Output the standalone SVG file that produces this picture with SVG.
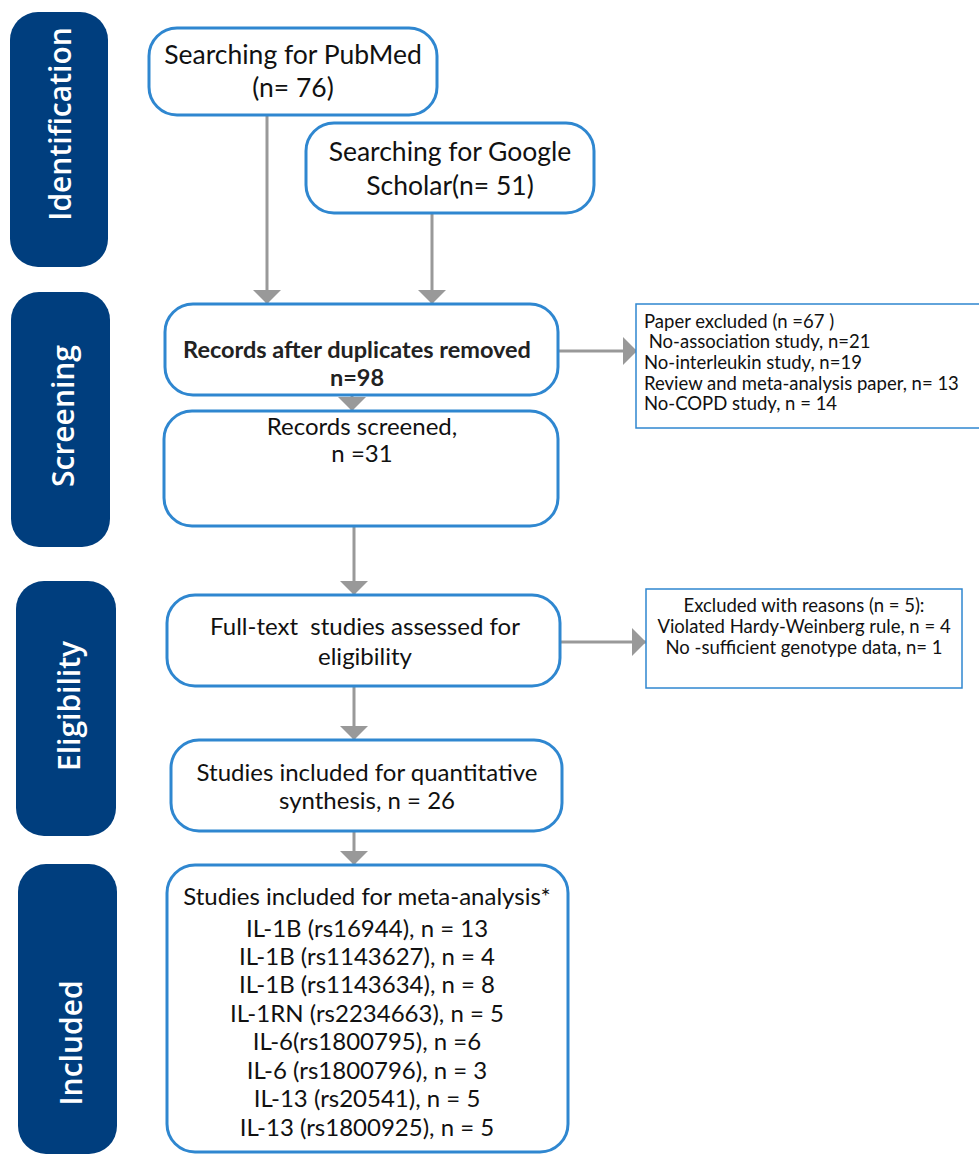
<svg xmlns="http://www.w3.org/2000/svg" width="979" height="1155" viewBox="0 0 979 1155">
<style>
.bar{fill:#003e7e}
.bl{fill:#fff;font-family:"Open Sans","Noto Sans",sans-serif;font-weight:600;font-size:30px;text-anchor:middle;dominant-baseline:central}
.box{fill:#fff;stroke:#2f87d0;stroke-width:3}
.rbox{fill:#fff;stroke:#2f87d0;stroke-width:1.5}
.t{font-family:Lato,"Liberation Sans",sans-serif;font-size:24px;fill:#111;text-anchor:middle}
.tl{font-family:Lato,"Liberation Sans",sans-serif;font-size:26.5px;fill:#111;text-anchor:middle}
.tb{font-family:Lato,"Liberation Sans",sans-serif;font-size:23.5px;fill:#222;text-anchor:middle;font-weight:bold}
.s{font-family:Lato,"Liberation Sans",sans-serif;font-size:18.5px;fill:#111}
.sc{font-family:Lato,"Liberation Sans",sans-serif;font-size:18.5px;fill:#111;text-anchor:middle}
.c{stroke:#999;stroke-width:3;fill:none;marker-end:url(#ah)}
</style>
<defs>
<marker id="ah" markerUnits="userSpaceOnUse" markerWidth="14" markerHeight="28" refX="14" refY="14" orient="auto" viewBox="0 0 14 28">
<path d="M0,0 L14,14 L0,28 z" fill="#999"/>
</marker>
</defs>
<g id="stage-identification"><rect class="bar" x="10" y="12" width="98" height="255" rx="28"/><text class="bl" transform="translate(59,124) rotate(-90)">Identification</text></g>
<g id="stage-screening"><rect class="bar" x="11" y="292" width="99" height="255" rx="28"/><text class="bl" transform="translate(62,416) rotate(-90)">Screening</text></g>
<g id="stage-eligibility"><rect class="bar" x="16" y="581" width="100" height="255" rx="28"/><text class="bl" transform="translate(68,706) rotate(-90)">Eligibility</text></g>
<g id="stage-included"><rect class="bar" x="18" y="864" width="99" height="290" rx="28"/><text class="bl" transform="translate(70,1043) rotate(-90)">Included</text></g>

<g id="connectors">
<line class="c" x1="267" y1="115" x2="267" y2="304"/>
<line class="c" x1="432" y1="213" x2="432" y2="304"/>
<line class="c" x1="352" y1="395" x2="352" y2="411"/>
<line class="c" x1="354" y1="526" x2="354" y2="595"/>
<line class="c" x1="354" y1="686" x2="354" y2="740"/>
<line class="c" x1="354" y1="831" x2="354" y2="865"/>
<line class="c" x1="558" y1="351" x2="637" y2="351"/>
<line class="c" x1="561" y1="642" x2="646" y2="642"/>
</g>

<g id="pubmed"><rect class="box" x="149" y="28" width="288" height="87" rx="28"/>
<text class="tl" x="293" y="64">Searching for PubMed</text><text class="tl" x="293" y="97">(n= 76)</text></g>
<g id="google"><rect class="box" x="306" y="123" width="288" height="90" rx="28"/>
<text class="tl" x="450" y="161">Searching for Google</text><text class="tl" x="450" y="195">Scholar(n= 51)</text></g>
<g id="records-dup"><rect class="box" x="165" y="304" width="393" height="91" rx="28"/>
<text class="tb" x="357" y="358">Records after duplicates removed</text><text class="tb" x="357" y="386">n=98</text></g>
<g id="records-screened"><rect class="box" x="164" y="411" width="394" height="115" rx="28"/>
<text class="t" x="362" y="435">Records screened,</text><text class="t" x="362" y="462">n =31</text></g>
<g id="fulltext"><rect class="box" x="167" y="595" width="393" height="91" rx="28"/>
<text class="t" x="365" y="635" xml:space="preserve">Full-text  studies assessed for</text><text class="t" x="365" y="665">eligibility</text></g>
<g id="quant"><rect class="box" x="171" y="740" width="391" height="91" rx="28"/>
<text class="t" x="367" y="781">Studies included for quantitative</text><text class="t" x="367" y="809">synthesis, n = 26</text></g>
<g id="meta"><rect class="box" x="167" y="865" width="401" height="287" rx="28"/>
<text class="t" x="367" y="905">Studies included for meta-analysis*</text>
<text class="t" x="367" y="937">IL-1B (rs16944), n = 13</text>
<text class="t" x="367" y="965">IL-1B (rs1143627), n = 4</text>
<text class="t" x="367" y="993">IL-1B (rs1143634), n = 8</text>
<text class="t" x="367" y="1022">IL-1RN (rs2234663), n = 5</text>
<text class="t" x="367" y="1050">IL-6(rs1800795), n =6</text>
<text class="t" x="367" y="1079">IL-6 (rs1800796), n = 3</text>
<text class="t" x="367" y="1107">IL-13 (rs20541), n = 5</text>
<text class="t" x="367" y="1136">IL-13 (rs1800925), n = 5</text></g>
<g id="paper-excluded"><rect class="rbox" x="636" y="304" width="345" height="124"/>
<text class="s" x="644" y="328">Paper excluded (n =67 )</text>
<text class="s" x="644" y="348" xml:space="preserve"> No-association study, n=21</text>
<text class="s" x="644" y="369">No-interleukin study, n=19</text>
<text class="s" x="644" y="390">Review and meta-analysis paper, n= 13</text>
<text class="s" x="644" y="410">No-COPD study, n = 14</text></g>
<g id="excluded-reasons"><rect class="rbox" x="646" y="589" width="316" height="99"/>
<text class="sc" x="804" y="612">Excluded with reasons (n = 5):</text>
<text class="sc" x="804" y="633">Violated Hardy-Weinberg rule, n = 4</text>
<text class="sc" x="804" y="654">No -sufficient genotype data, n= 1</text></g>
</svg>
